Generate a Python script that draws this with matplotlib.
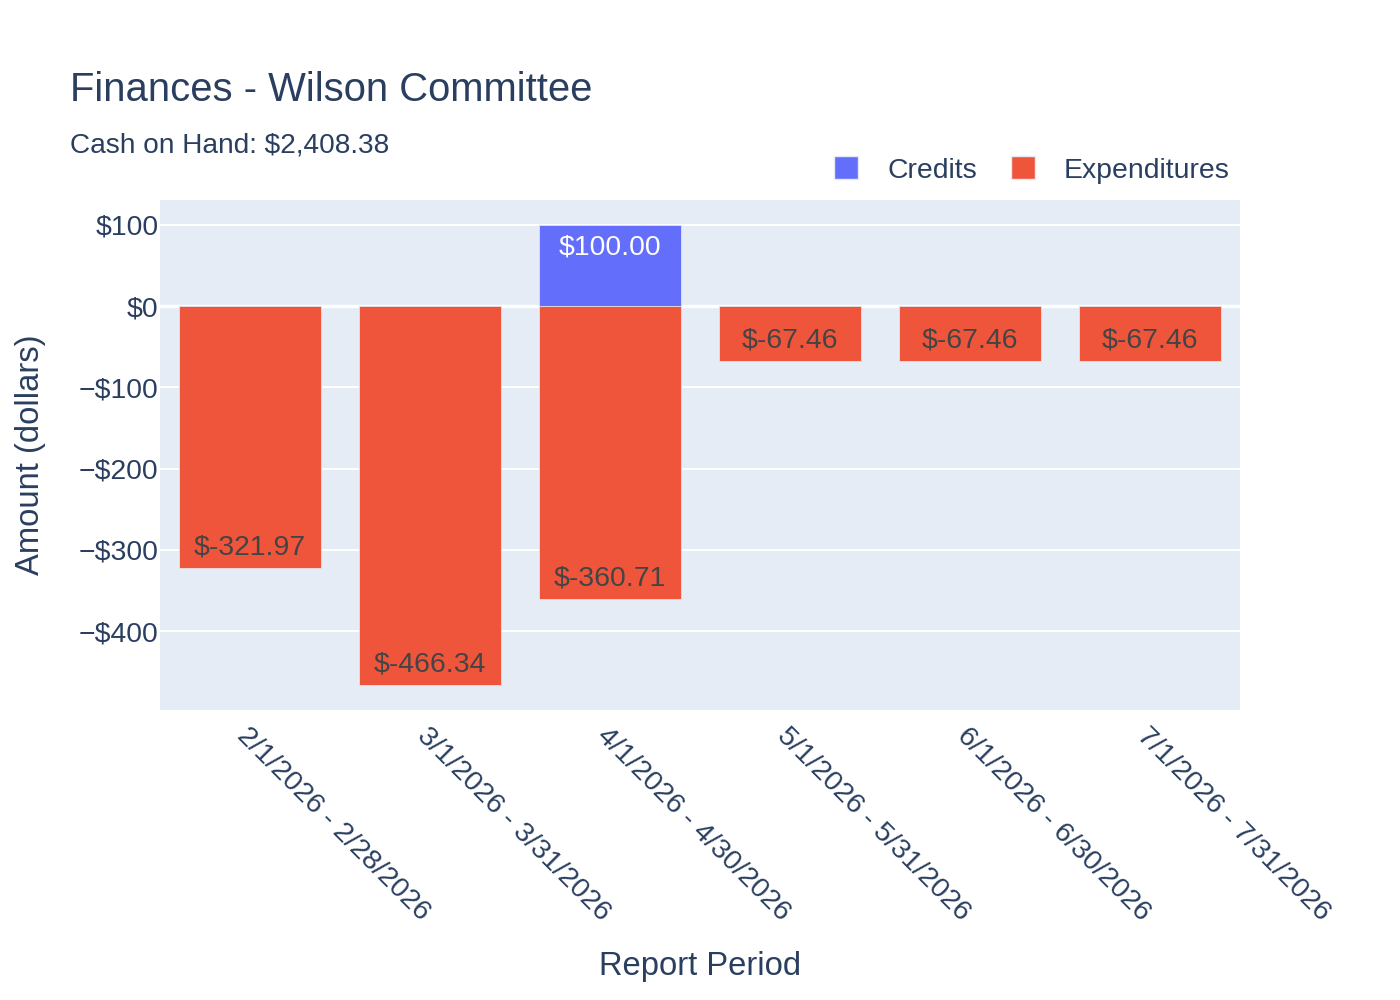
import matplotlib.pyplot as plt
from matplotlib.patches import Patch

plt.rcParams['font.family'] = ['Liberation Sans', 'DejaVu Sans']

# Data
periods = ['2/1/2026 - 2/28/2026', '3/1/2026 - 3/31/2026', '4/1/2026 - 4/30/2026',
           '5/1/2026 - 5/31/2026', '6/1/2026 - 6/30/2026', '7/1/2026 - 7/31/2026']
credits = [0, 0, 100.00, 0, 0, 0]
expenditures = [-321.97, -466.34, -360.71, -67.46, -67.46, -67.46]
yticks = [100, 0, -100, -200, -300, -400]

blue = '#636EFA'
red = '#EF553B'
ink = '#2a3f5f'
bg = '#E5ECF6'
fs = 20.4

fig = plt.figure(figsize=(14, 10), dpi=100)
ax = fig.add_axes([160 / 1400, 1 - 710 / 1000, 1080 / 1400, 510 / 1000])
ax.set_facecolor(bg)

x = list(range(len(periods)))
ax.bar(x, credits, width=0.79, color=blue, edgecolor=bg, linewidth=0.5, zorder=3)
ax.bar(x, expenditures, width=0.79, color=red, edgecolor=bg, linewidth=0.5, zorder=3)

for i, v in enumerate(credits):
    if v > 0:
        ax.annotate(f'${v:.2f}', (i, v), xytext=(0, -16), textcoords='offset points',
                    ha='center', va='center', fontsize=fs, color='white', zorder=4)
for i, v in enumerate(expenditures):
    ax.annotate(f'${v:.2f}', (i, v), xytext=(0, 14.5), textcoords='offset points',
                ha='center', va='center', fontsize=fs, color='#444444', zorder=4)

ax.set_xlim(-0.5, len(periods) - 0.5)
ax.set_ylim(-497.2, 130.5)
ax.set_yticks(yticks)
ax.set_yticklabels([('\u2212$' if t < 0 else '$') + str(abs(t)) for t in yticks])
ax.grid(axis='y', color='white', linewidth=1.4, zorder=0)
ax.axhline(0, color='white', linewidth=2.4, zorder=1)
ax.set_xticks(x)
ax.set_xticklabels(periods, rotation=-45, ha='left', va='top', rotation_mode='anchor')
for s in ax.spines.values():
    s.set_visible(False)
ax.tick_params(axis='both', length=0, labelsize=fs, labelcolor=ink)
ax.tick_params(axis='y', pad=1)
ax.tick_params(axis='x', pad=9)

fig.text(31 / 1400, 1 - 455 / 1000, 'Amount (dollars)', fontsize=23.6, color=ink,
         ha='center', va='center', rotation=90)
fig.text(700 / 1400, 1 - 966 / 1000, 'Report Period', fontsize=23.6, color=ink,
         ha='center', va='center')

fig.text(70 / 1400, 1 - 90 / 1000, 'Finances - Wilson Committee', fontsize=28.8,
         color=ink, ha='left', va='center')
fig.text(70 / 1400, 1 - 146 / 1000, 'Cash on Hand: $2,408.38', fontsize=20.2,
         color=ink, ha='left', va='center')

handles = [Patch(facecolor=blue, edgecolor=bg, label='Credits'),
           Patch(facecolor=red, edgecolor=bg, label='Expenditures')]
fig.legend(handles=handles, loc='center right', bbox_to_anchor=(1244 / 1400, 1 - 170 / 1000),
           ncol=2, frameon=False, fontsize=fs, labelcolor=ink, handlelength=0.85,
           handleheight=0.85, handletextpad=1.02, columnspacing=1.2, borderpad=0)

fig.savefig('out.png', dpi=100, facecolor='white')
